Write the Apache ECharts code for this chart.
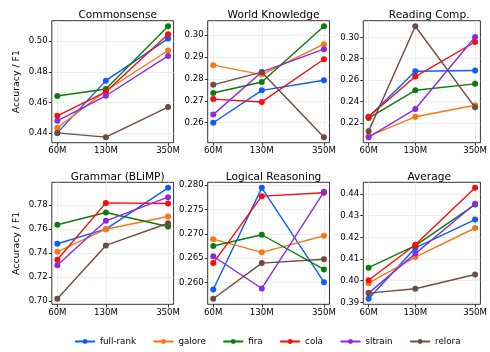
<!DOCTYPE html>
<html>
<head>
<meta charset="utf-8">
<script src="https://cdn.jsdelivr.net/npm/echarts@6/dist/echarts.min.js"></script>
<style>
  html, body { margin: 0; padding: 0; background: #fff; }
  #chart { width: 490px; height: 352px; }
</style>
</head>
<body>
<div id="chart"></div>
<script>
// Model sizes (millions of parameters) and method names
const sizes = [60, 130, 350];
const methods = ['full-rank', 'galore', 'fira', 'cola', 'sltrain', 'relora'];
const methodColors = ['#0b5cff', '#ff7410', '#0a7d0a', '#ff0a0a', '#8a2be2', '#6d4c41'];

// Benchmark panels
const panelTitles = ['Commonsense', 'World Knowledge', 'Reading Comp.', 'Grammar (BLiMP)', 'Logical Reasoning', 'Average'];

// Scores per method, ordered as `methods`, each at 60M / 130M / 350M
const commonsense = [
  [0.4400, 0.4742, 0.5017],
  [0.4433, 0.4676, 0.4939],
  [0.4641, 0.4687, 0.5098],
  [0.4512, 0.4669, 0.5046],
  [0.4479, 0.4643, 0.4904],
  [0.4400, 0.4372, 0.4569]
];
const worldKnowledge = [
  [0.2600, 0.2748, 0.2794],
  [0.2863, 0.2820, 0.2959],
  [0.2736, 0.2786, 0.3041],
  [0.2708, 0.2695, 0.2890],
  [0.2637, 0.2832, 0.2936],
  [0.2773, 0.2831, 0.2534]
];
const readingComp = [
  [0.2256, 0.2684, 0.2691],
  [0.2078, 0.2259, 0.2366],
  [0.2247, 0.2506, 0.2566],
  [0.2259, 0.2634, 0.2956],
  [0.2069, 0.2331, 0.3003],
  [0.2125, 0.3103, 0.2347]
];
const grammar = [
  [0.7477, 0.7599, 0.7945],
  [0.7410, 0.7599, 0.7705],
  [0.7636, 0.7739, 0.7622],
  [0.7343, 0.7819, 0.7814],
  [0.7298, 0.7669, 0.7867],
  [0.7017, 0.7463, 0.7649]
];
const logical = [
  [0.2586, 0.2794, 0.2601],
  [0.2689, 0.2662, 0.2696],
  [0.2675, 0.2698, 0.2627],
  [0.2640, 0.2777, 0.2784],
  [0.2654, 0.2588, 0.2786],
  [0.2567, 0.2640, 0.2648]
];
const average = [
  [0.3917, 0.4151, 0.4282],
  [0.3989, 0.4109, 0.4243],
  [0.4060, 0.4162, 0.4351],
  [0.4002, 0.4166, 0.4428],
  [0.3943, 0.4125, 0.4355],
  [0.3943, 0.3963, 0.4029]
];
const panelData = [commonsense, worldKnowledge, readingComp, grammar, logical, average];

// Y tick labels for each panel
const yTicks = [
  [0.44, 0.46, 0.48, 0.50],
  [0.26, 0.27, 0.28, 0.29, 0.30],
  [0.22, 0.24, 0.26, 0.28, 0.30],
  [0.70, 0.72, 0.74, 0.76, 0.78],
  [0.260, 0.265, 0.270, 0.275, 0.280],
  [0.39, 0.40, 0.41, 0.42, 0.43, 0.44]
];
const yDecimals = [2, 2, 2, 2, 3, 2];
const yAxisName = 'Accuracy / F1';

const FONT = 'DejaVu Sans';
const TICK_FONT = 8.6;
const colLefts = [51.8, 207.7, 363.3];
const rowTops = [20.7, 182.3];
const panelW = 121.8;
const panelH = 122;

// 5% padding around the data, on a log scale for x
const logSpan = Math.log(sizes[sizes.length - 1] / sizes[0]);
const xMin = sizes[0] * Math.exp(-0.05 * logSpan);
const xMax = sizes[sizes.length - 1] * Math.exp(0.05 * logSpan);

const grids = [], xAxes = [], yAxes = [], series = [], titles = [];
panelData.forEach((rows, p) => {
  const col = p % 3, row = Math.floor(p / 3);
  grids.push({
    left: colLefts[col], top: rowTops[row], width: panelW, height: panelH,
    show: true, borderColor: '#000', borderWidth: 0.8, backgroundColor: 'transparent'
  });
  titles.push({
    text: panelTitles[p],
    left: colLefts[col] + panelW / 2, top: rowTops[row] - 16, textAlign: 'center',
    textStyle: { fontFamily: FONT, fontSize: 10.6, fontWeight: 'normal', color: '#000' }
  });
  const flat = rows.flat();
  const lo = Math.min(...flat), hi = Math.max(...flat), pad = (hi - lo) * 0.05;
  xAxes.push({
    type: 'log', logBase: 10, gridIndex: p, min: xMin, max: xMax,
    axisLine: { show: false },
    axisTick: { show: true, length: 3, lineStyle: { color: '#000', width: 0.8 }, customValues: sizes },
    axisLabel: { customValues: sizes, fontFamily: FONT, fontSize: TICK_FONT, color: '#000', margin: 4,
      formatter: v => Math.round(v) + 'M' },
    splitLine: { show: true, lineStyle: { color: '#e8e8e8', width: 0.8 } },
    minorTick: { show: false }, minorSplitLine: { show: false }
  });
  const dec = yDecimals[p];
  yAxes.push({
    type: 'value', gridIndex: p, min: lo - pad, max: hi + pad,
    name: col === 0 ? yAxisName : '',
    nameLocation: 'middle', nameRotate: 90, nameGap: 31,
    nameTextStyle: { fontFamily: FONT, fontSize: 9.4, color: '#000' },
    axisLine: { show: false },
    axisTick: { show: true, length: 3, lineStyle: { color: '#000', width: 0.8 }, customValues: yTicks[p] },
    axisLabel: { customValues: yTicks[p], fontFamily: FONT, fontSize: TICK_FONT, color: '#000', margin: 4,
      formatter: v => Number(v).toFixed(dec) },
    splitLine: { show: true, lineStyle: { color: '#e8e8e8', width: 0.8 } }
  });
  rows.forEach((vals, m) => {
    series.push({
      type: 'line', name: methods[m], xAxisIndex: p, yAxisIndex: p,
      data: sizes.map((s, i) => [s, vals[i]]),
      symbol: 'circle', symbolSize: 6, showSymbol: true,
      lineStyle: { color: methodColors[m], width: 1.4 },
      itemStyle: { color: methodColors[m] },
      animation: false, z: 2 + m
    });
  });
});

const chart = echarts.init(document.getElementById('chart'), null, { renderer: 'canvas' });
chart.setOption({
  backgroundColor: '#fff',
  animation: false,
  title: titles,
  grid: grids,
  xAxis: xAxes,
  yAxis: yAxes,
  legend: {
    data: methods, bottom: 1, left: 69,
    itemWidth: 20, itemHeight: 6, itemGap: 16.5,
    textStyle: { fontFamily: FONT, fontSize: 8.7, color: '#000' }
  },
  series: series
});
</script>
</body>
</html>
